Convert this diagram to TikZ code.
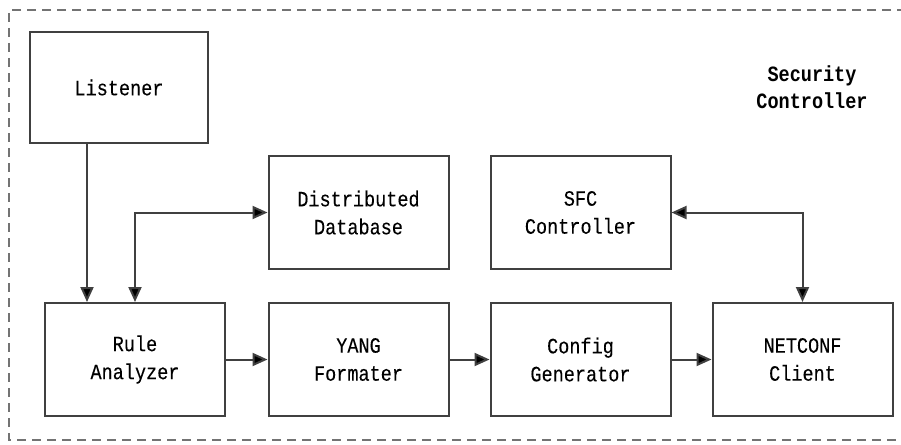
\documentclass[tikz,border=0pt]{standalone}
\usepackage{fontspec}
\newfontfamily\boxfont[FakeStretch=0.85,FakeBold=0.15]{Liberation Mono}
\newfontfamily\titlefont[FakeStretch=0.85]{Liberation Mono Bold}
\usetikzlibrary{arrows.meta}

\tikzset{
  block/.style={draw=black!75, line width=2pt, minimum width=180pt, minimum height=113pt,
    align=center, text=black, font=\boxfont\fontsize{21.8}{28}\selectfont},
  arr/.style={draw=black!75, line width=2pt, -{Triangle[length=15pt,width=13pt,fill=black]}},
  arrtwo/.style={draw=black!75, line width=2pt,
    {Triangle[length=15pt,width=13pt,fill=black]}-{Triangle[length=15pt,width=13pt,fill=black]}}
}

\begin{document}
\begin{tikzpicture}[x=1pt,y=-1pt]
\useasboundingbox (0,0) rectangle (901,444);
% outer dashed frame
\draw[black!55, line width=2pt, dash pattern=on 9pt off 6pt] (906,10) -- (9,10) -- (9,440) -- (906,440);

\node[block, minimum width=178pt, minimum height=111pt] (listener) at (119,87.5) {Listener};
\node[font=\titlefont\fontsize{21.8}{27}\selectfont, align=center] (title) at (812,87) {Security\\Controller};

\node[block] (db) at (358.5,212.5) {Distributed\\Database};
\node[block] (sfc) at (580.5,212.5) {SFC\\Controller};

\node[block] (rule) at (135,359.5) {Rule\\Analyzer};
\node[block] (yang) at (358.5,359.5) {YANG\\Formater};
\node[block] (config) at (580.5,359.5) {Config\\Generator};
\node[block] (netconf) at (802.5,359.5) {NETCONF\\Client};

% connectors
\draw[arr] ([xshift=-48pt]rule.north |- listener.south) -- ([xshift=-48pt]rule.north);
\draw[arrtwo] (rule.north) |- (db.west);
\draw[arrtwo] (netconf.north) |- (sfc.east);
\draw[arr] (rule) -- (yang);
\draw[arr] (yang) -- (config);
\draw[arr] (config) -- (netconf);

\end{tikzpicture}
\end{document}
